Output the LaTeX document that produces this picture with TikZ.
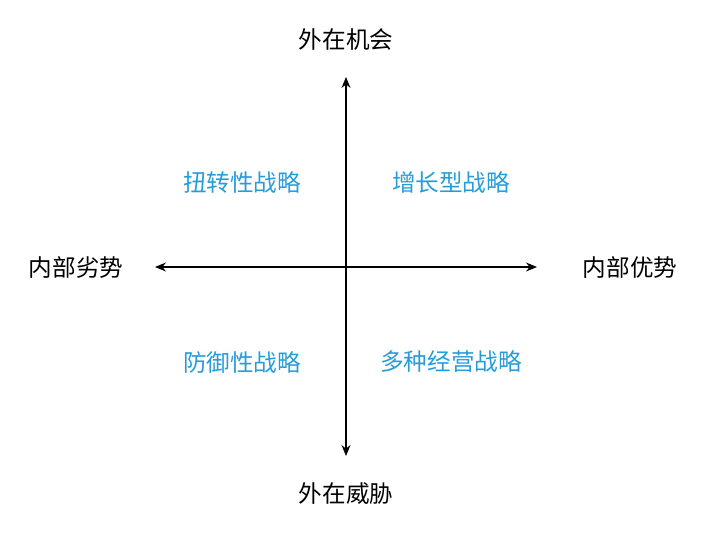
\documentclass[tikz,border=0pt]{standalone}
\usepackage{fontspec}
\newfontfamily\cjk{Noto Sans CJK SC}
\usetikzlibrary{arrows.meta}
\definecolor{stratblue}{RGB}{38,157,218}

\begin{document}
\begin{tikzpicture}[x=1pt,y=-1pt]
\tikzset{axis/.style = {<->,>={Stealth[length=11pt,width=9pt]},line width=1.3pt}}
\tikzset{pole/.style = {font=\cjk\fontsize{23.6}{28}\selectfont,text=black}}
\tikzset{strat/.style = {font=\cjk\fontsize{23.6}{28}\selectfont,text=stratblue}}
\useasboundingbox (0,0) rectangle (703,533);

%axis ends
\coordinate (top) at (346,77);
\coordinate (bot) at (346,456);
\coordinate (lft) at (155,267);
\coordinate (rgt) at (537,267);

%poles
\node[pole] (opp) at (346,40) {外在机会};
\node[pole] (thr) at (346,494) {外在威胁};
\node[pole] (weak) at (76,268) {内部劣势};
\node[pole] (str) at (630,268) {内部优势};

%strategies
\node[strat] (turn) at (242,182) {扭转性战略};
\node[strat] (grow) at (451,182) {增长型战略};
\node[strat] (def) at (242,362) {防御性战略};
\node[strat] (div) at (451,362) {多种经营战略};

%axes
\draw[axis] (bot) -- (top);
\draw[axis] (lft) -- (rgt);

\end{tikzpicture}
\end{document}
